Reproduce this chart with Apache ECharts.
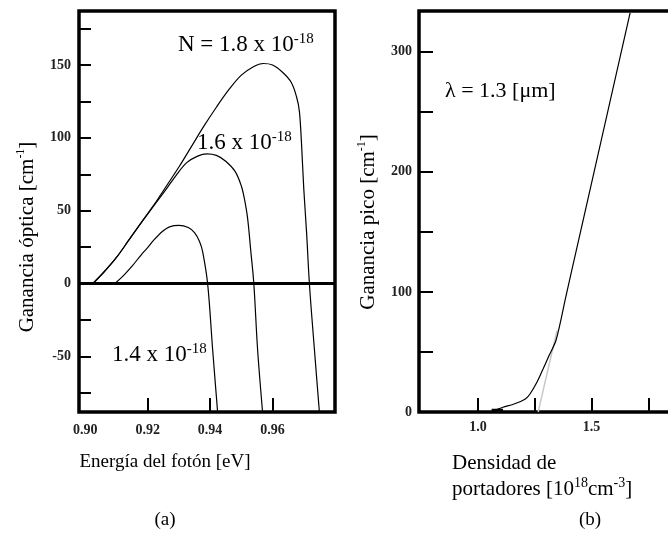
<!DOCTYPE html>
<html>
<head>
<meta charset="utf-8">
<script src="https://cdn.jsdelivr.net/npm/echarts@6/dist/echarts.min.js"></script>
<style>
html,body{margin:0;padding:0;background:#fff;}
#chart{width:668px;height:544px;}
</style>
</head>
<body>
<div id="chart"></div>
<script>
// ---- Panel (a): optical gain vs photon energy ----
const energyLabelTicks = [0.90, 0.92, 0.94, 0.96];
const energyMinorTicks = [0.92, 0.94, 0.96];
const gainLabelTicks = [-50, 0, 50, 100, 150];
const gainMinorTicks = [-75, -50, -25, 0, 25, 50, 75, 100, 125, 150, 175];

const curveN18 = [[0.9024,0],[0.906,8],[0.910,18],[0.914,30],[0.918,42],[0.922,54],[0.926,67],[0.930,80],[0.934,94],[0.938,108],[0.942,121],[0.946,133],[0.950,143],[0.954,149],[0.957,151],[0.960,150],[0.9632,145],[0.966,138],[0.9677,128],[0.9686,118],[0.9693,95],[0.9700,65],[0.9709,35],[0.9718,0],[0.9734,-45],[0.975,-88]];
const curveN16 = [[0.9024,0],[0.906,8],[0.910,18],[0.914,30],[0.918,42],[0.922,53.5],[0.926,65],[0.929,74],[0.9325,83],[0.936,87.5],[0.939,89],[0.942,88],[0.945,84],[0.948,77],[0.950,67],[0.951,58],[0.952,45],[0.953,23],[0.954,0],[0.9552,-45],[0.9568,-88]];
const curveN14 = [[0.9094,0],[0.912,5],[0.915,12],[0.918,20],[0.9197,24],[0.922,30],[0.9248,36],[0.927,39],[0.930,40],[0.933,38.5],[0.935,35],[0.9366,29],[0.9376,22],[0.9392,0],[0.9408,-45],[0.9424,-88]];

// ---- Panel (b): peak gain vs carrier density ----
const densityLabelTicks = [1.0, 1.5];
const densityMinorTicks = [1.0, 1.25, 1.5, 1.75, 2.0];
const peakLabelTicks = [0, 100, 200, 300];
const peakMinorTicks = [50, 100, 150, 200, 250, 300];
const peakGainCurve = [[1.062,0.5],[1.110,4],[1.150,6],[1.185,8.5],[1.21,11],[1.229,15],[1.260,25],[1.287,36],[1.313,47],[1.344,60],[1.388,97],[1.4365,137.5],[1.670,332.5]];
const peakBase = [[1.06,1.5],[1.11,1.5]];
const peakTangent = [[1.265,0],[1.348,68]];

const tickFont = {fontFamily:'"Liberation Serif"', fontWeight:'bold', fontSize:14, color:'#222'};
const serif = '"Liberation Serif"';

const chart = echarts.init(document.getElementById('chart'), null, {renderer:'canvas'});

function lineSeries(data, xi, yi, extra){
  return Object.assign({
    type:'line', data:data, xAxisIndex:xi, yAxisIndex:yi,
    showSymbol:false, symbol:'none', smooth:0.35,
    lineStyle:{color:'#000', width:1.2}, silent:true, z:3
  }, extra||{});
}
function sup(txt, main, small, lh){
  return {text:txt, verticalAlign:'middle',
    rich:{a:{fontFamily:serif, fontSize:main, lineHeight:lh, fill:'#000'},
          s:{fontFamily:serif, fontSize:small, verticalAlign:'top', lineHeight:lh, fill:'#000'}}};
}

const option = {
  animation:false,
  backgroundColor:'#fff',
  grid:[
    {left:79, right:333, top:11, bottom:132, show:true, borderColor:'#000', borderWidth:3.5, backgroundColor:'transparent', outerBoundsMode:'none', containLabel:false},
    {left:419, right:-37, top:11, bottom:132, show:true, borderColor:'#000', borderWidth:3.5, backgroundColor:'transparent', outerBoundsMode:'none', containLabel:false}
  ],
  xAxis:[
    {type:'value', gridIndex:0, min:0.898, max:0.98,
     axisLine:{show:false, onZero:false}, splitLine:{show:false},
     axisTick:{show:true, inside:true, length:14, lineStyle:{color:'#000', width:2}, customValues:energyMinorTicks},
     axisLabel:Object.assign({margin:11, customValues:energyLabelTicks, formatter:v=>v.toFixed(2)}, tickFont)},
    {type:'value', gridIndex:1, min:0.74, max:2.0,
     axisLine:{show:false, onZero:false}, splitLine:{show:false},
     axisTick:{show:true, inside:true, length:14, lineStyle:{color:'#000', width:2}, customValues:densityMinorTicks},
     axisLabel:Object.assign({margin:8, customValues:densityLabelTicks, formatter:v=>v.toFixed(1)}, tickFont)}
  ],
  yAxis:[
    {type:'value', gridIndex:0, min:-88, max:187,
     axisLine:{show:false, onZero:false}, splitLine:{show:false},
     axisTick:{show:true, inside:true, length:12, lineStyle:{color:'#000', width:2}, customValues:gainMinorTicks},
     axisLabel:Object.assign({margin:8, customValues:gainLabelTicks}, tickFont)},
    {type:'value', gridIndex:1, min:0, max:334,
     axisLine:{show:false, onZero:false}, splitLine:{show:false},
     axisTick:{show:true, inside:true, length:14, lineStyle:{color:'#000', width:2}, customValues:peakMinorTicks},
     axisLabel:Object.assign({margin:7, customValues:peakLabelTicks}, tickFont)}
  ],
  series:[
    lineSeries(curveN18, 0, 0, {
      markLine:{silent:true, symbol:'none', label:{show:false},
        lineStyle:{color:'#000', width:3, type:'solid'}, data:[{yAxis:0}]}
    }),
    lineSeries(curveN16, 0, 0),
    lineSeries(curveN14, 0, 0),
    lineSeries(peakTangent, 1, 1, {smooth:false, lineStyle:{color:'#c8c8c8', width:1.5}, z:2}),
    lineSeries(peakGainCurve, 1, 1, {smooth:0.3}),
    lineSeries(peakBase, 1, 1, {smooth:false, lineStyle:{color:'#000', width:3}})
  ],
  graphic:[
    {type:'text', x:178, y:45, style:sup('{a|N = 1.8 x 10}{s|-18}', 23, 15, 27)},
    {type:'text', x:197, y:143, style:sup('{a|1.6 x 10}{s|-18}', 23, 15, 27)},
    {type:'text', x:112, y:355, style:sup('{a|1.4 x 10}{s|-18}', 23, 15, 27)},
    {type:'text', x:445, y:91, style:{text:'λ = 1.3 [μm]', font:'22px "Liberation Serif"', fill:'#000', verticalAlign:'middle'}},
    {type:'text', x:27, y:237, rotation:Math.PI/2, style:Object.assign(sup('{a|Ganancia óptica [cm}{s|-1}{a|]}', 21, 12, 24), {align:'center'})},
    {type:'text', x:368, y:222, rotation:Math.PI/2, style:Object.assign(sup('{a|Ganancia pico [cm}{s|-1}{a|]}', 21, 12, 24), {align:'center'})},
    {type:'text', x:165, y:462, style:{text:'Energía del fotón [eV]', font:'19px "Liberation Serif"', fill:'#000', align:'center', verticalAlign:'middle'}},
    {type:'text', x:452, y:463, style:{text:'Densidad de', font:'21px "Liberation Serif"', fill:'#000', verticalAlign:'middle'}},
    {type:'text', x:452, y:489, style:sup('{a|portadores [10}{s|18}{a|cm}{s|-3}{a|]}', 21, 14, 25)},
    {type:'text', x:165, y:520, style:{text:'(a)', font:'19px "Liberation Serif"', fill:'#000', align:'center', verticalAlign:'middle'}},
    {type:'text', x:590, y:520, style:{text:'(b)', font:'19px "Liberation Serif"', fill:'#000', align:'center', verticalAlign:'middle'}}
  ]
};
chart.setOption(option);
</script>
</body>
</html>
